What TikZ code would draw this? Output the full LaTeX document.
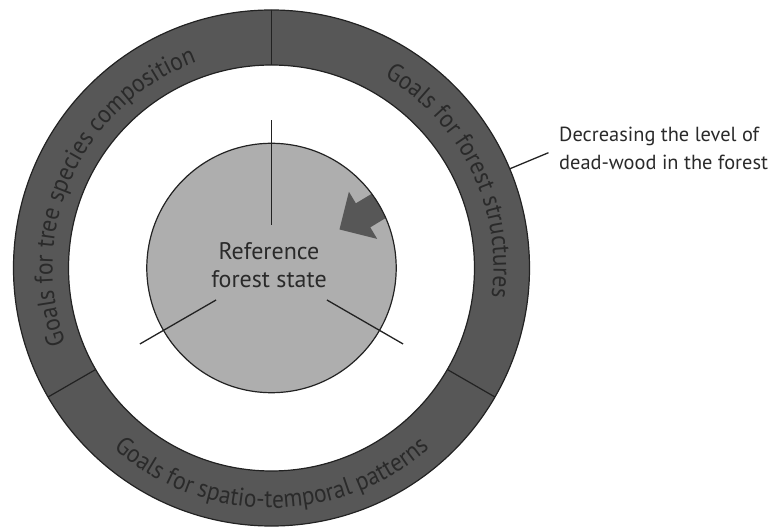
\documentclass[tikz,border=0pt]{standalone}
\usepackage{fontspec}
\setmainfont{PT Sans}
\newfontfamily\ringfont[FakeStretch=0.92]{PT Sans}
\usetikzlibrary{decorations.text}
\definecolor{ringgray}{HTML}{575757}
\definecolor{coregray}{HTML}{AEAEAE}
\definecolor{inkgray}{HTML}{222222}
\definecolor{textgray}{HTML}{2A2A2A}
\begin{document}
\begin{tikzpicture}[x=1pt,y=1pt,
  outline/.style={draw=inkgray, line width=1.2pt},
  spoke/.style={draw=inkgray, line width=1.3pt},
  ringlabel/.style={decorate, decoration={text along path, text align=center,
      text color=textgray, text={|\ringfont\fontsize{25.5}{25.5}\selectfont|#1}}},
  plain/.style={font=\fontsize{24}{24}\selectfont, text=textgray, inner sep=0pt},
  side/.style={font=\fontsize{20.4}{20.4}\selectfont, text=textgray, inner sep=0pt, anchor=base west}]
\useasboundingbox (-271.5,-259) rectangle (502.5,268);
\coordinate (C) at (0,0);

% outer ring of goals
\fill[ringgray, even odd rule] (C) circle (258) (C) circle (203);
\path[outline] (C) circle (258) (C) circle (203);
\foreach \a in {90,210,330} \path[outline] (\a:203) -- (\a:258);

% goal titles set along the ring
\path[ringlabel={Goals for tree species composition}] (210:219) arc[start angle=210, end angle=100, radius=219];
\path[ringlabel={Goals for forest structures}] (80:222) arc[start angle=80, end angle=-28, radius=222];
\path[ringlabel={Goals for spatio-temporal patterns}] (215:240) arc[start angle=215, end angle=325, radius=240];

% reference state disc with the inward arrow
\fill[coregray] (C) circle (124.7);
\begin{scope}
  \clip (C) circle (124.7);
  \fill[ringgray, shift={(68,38.5)}, rotate=31]
    (0,0) -- (27.5,27.5) -- (27.5,14) -- (95,14) -- (95,-14) -- (27.5,-14) -- (27.5,-27.5) -- cycle;
\end{scope}
\path[outline] (C) circle (124.7);

% spokes
\coordinate (s1a) at (90:43);  \coordinate (s1b) at (90:148);
\coordinate (s2a) at (210:64); \coordinate (s2b) at (210:152);
\coordinate (s3a) at (330:64); \coordinate (s3b) at (330:152);
\path[spoke] (s1a) -- (s1b);
\path[spoke] (s2a) -- (s2b);
\path[spoke] (s3a) -- (s3b);

\node[plain, anchor=base] (ref1) at (-2.5,8.7) {Reference};
\node[plain, anchor=base] (ref2) at (-2.5,-19.7) {forest state};

% side note
\coordinate (n1) at (22.6:258);
\coordinate (n2) at (22.6:300);
\path[spoke] (n1) -- (n2);
\node[side] (note1) at (287.5,126.3) {Decreasing the level of};
\node[side] (note2) at (287.5,98) {dead-wood in the forest};
\end{tikzpicture}
\end{document}
